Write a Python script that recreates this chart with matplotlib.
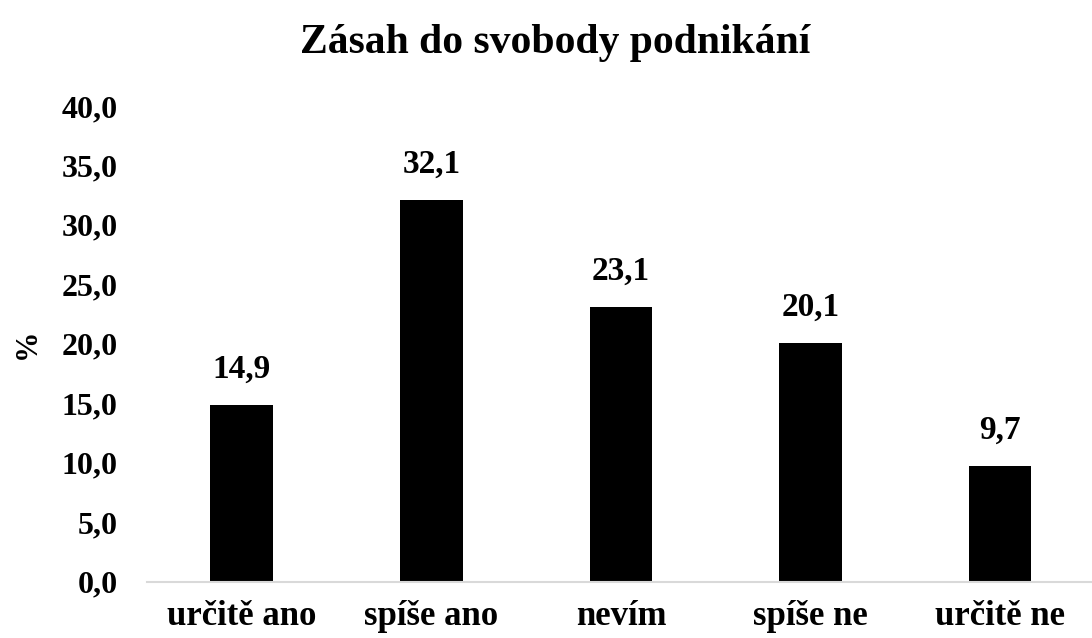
import matplotlib.pyplot as plt

# Data
kategorie = ["určitě ano", "spíše ano", "nevím", "spíše ne", "určitě ne"]
hodnoty = [14.9, 32.1, 23.1, 20.1, 9.7]
y_ticks = [0, 5, 10, 15, 20, 25, 30, 35, 40]

plt.rcParams['font.family'] = ['Liberation Serif', 'DejaVu Serif']
plt.rcParams['font.weight'] = 'bold'

fig = plt.figure(figsize=(10.92, 6.38), dpi=100)
ax = fig.add_axes([0.1346, 0.088, 0.868, 0.746])

x = range(len(kategorie))
ax.bar(x, hodnoty, width=0.33, color='black')

for xi, v in zip(x, hodnoty):
    ax.text(xi, v + 1.7, f"{v:.1f}".replace('.', ','), ha='center', va='bottom',
            fontsize=24, fontweight='bold')

ax.set_xlim(-0.5, 4.5)
ax.set_ylim(0, 40)
ax.set_yticks(y_ticks)
ax.set_yticklabels([f"{t:.1f}".replace('.', ',') for t in y_ticks], fontsize=23, fontweight='bold')
ax.set_xticks(list(x))
ax.set_xticklabels(kategorie, fontsize=25, fontweight='bold')
ax.tick_params(axis='y', length=0, pad=21)
ax.tick_params(axis='x', length=0, pad=13)
ax.set_ylabel("%", fontsize=22, fontweight='bold', labelpad=14)

for s in ['top', 'right', 'left']:
    ax.spines[s].set_visible(False)
ax.spines['bottom'].set_color('#d9d9d9')
ax.spines['bottom'].set_linewidth(1.5)

fig.suptitle("Zásah do svobody podnikání", fontsize=30, fontweight='bold', x=0.508, y=0.962)

fig.savefig("out.png", dpi=100)
